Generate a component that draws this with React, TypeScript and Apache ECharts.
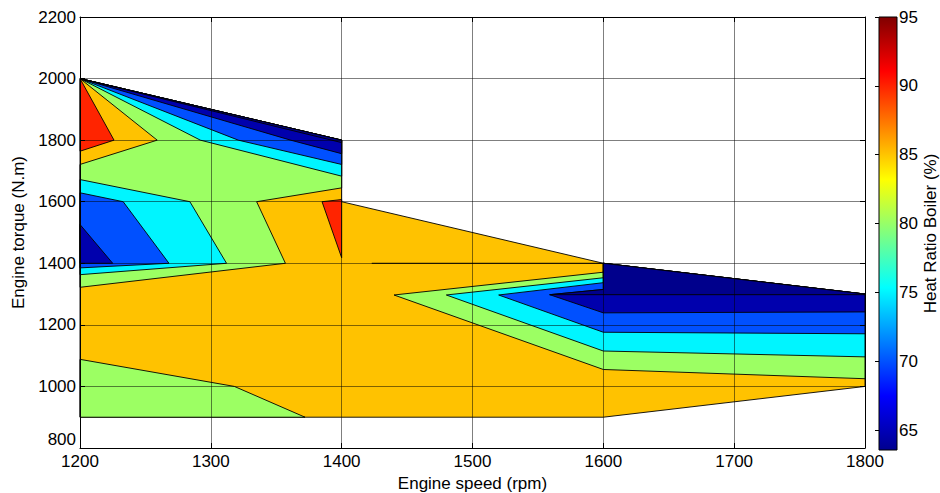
import React, { useEffect, useRef } from 'react';
import * as echarts from 'echarts';

type Pt = [number, number];

// ---- axis ranges and tick labels ----
const speedRange: Pt = [1200, 1800];
const speedStep = 100;
const torqueRange: Pt = [800, 2200];
const torqueStep = 200;
const heatRange: Pt = [63.55, 95];
const heatTicks = [65, 70, 75, 80, 85, 90, 95];

// ---- contour level colours (jet, flat per band): <65, 65, 70, 75, 80, 85, 90 ----
const levelColors = ['#00008C', '#0000AD', '#0050FF', '#00F5FF', '#9CFF63', '#FFC200', '#FF2400'];
const jetStops = ['#00008F', '#0000FF', '#00FFFF', '#FFFF00', '#FF0000', '#800000'];
const jetOffsets = [0, 0.125, 0.375, 0.625, 0.875, 1];

// ---- filled-contour regions (speed rpm, torque N.m) ----
const domain: Pt[] = [[1200, 2000], [1400, 1800], [1400, 1600], [1600, 1400], [1800, 1300], [1800, 1000], [1600, 900], [1200, 900]];

const greenTop: Pt[] = [[1200, 2000], [1400, 1800], [1400, 1645], [1335, 1600], [1357, 1400], [1200, 1322], [1200, 1721], [1259, 1800]];
const greenRight: Pt[] = [[1440, 1297], [1600, 1371], [1600, 1400], [1800, 1300], [1800, 1025], [1600, 1055]];
const greenBottom: Pt[] = [[1200, 900], [1200, 1088], [1318, 1000], [1372, 900]];

const cyanTop: Pt[] = [[1200, 2000], [1400, 1800], [1400, 1683], [1292, 1800]];
const cyanLeft: Pt[] = [[1200, 1672], [1284, 1600], [1312, 1400], [1200, 1363]];
const cyanRight: Pt[] = [[1480, 1297], [1600, 1353], [1600, 1400], [1800, 1300], [1800, 1096], [1600, 1115]];

const blueTop: Pt[] = [[1200, 2000], [1400, 1800], [1400, 1721], [1321, 1800]];
const blueLeft: Pt[] = [[1200, 1629], [1233, 1600], [1268, 1400], [1200, 1385]];
const blueRight: Pt[] = [[1520, 1297], [1600, 1337], [1600, 1400], [1800, 1300], [1800, 1171], [1600, 1176]];

const navyTop: Pt[] = [[1200, 2000], [1400, 1800], [1400, 1756], [1361, 1800]];
const navyLeft: Pt[] = [[1200, 1526], [1225, 1400], [1200, 1400]];
const navyRight: Pt[] = [[1559, 1298], [1600, 1315], [1600, 1400], [1800, 1300], [1800, 1242], [1600, 1239]];

const deepTop: Pt[] = [[1200, 2000], [1400, 1800], [1400, 1792]];
const deepRight: Pt[] = [[1559, 1298], [1600, 1315], [1600, 1400], [1800, 1300], [1800, 1298]];

const redTop: Pt[] = [[1200, 2000], [1226, 1800], [1200, 1764]];
const redMid: Pt[] = [[1385, 1600], [1400, 1607], [1400, 1418]];

const flatLine: Pt[] = [[1423, 1400], [1600, 1400]];

const regions: { level: number; pts: Pt[] }[] = [
  { level: 5, pts: domain },
  { level: 4, pts: greenTop },
  { level: 4, pts: greenRight },
  { level: 4, pts: greenBottom },
  { level: 3, pts: cyanTop },
  { level: 3, pts: cyanLeft },
  { level: 3, pts: cyanRight },
  { level: 2, pts: blueTop },
  { level: 2, pts: blueLeft },
  { level: 2, pts: blueRight },
  { level: 1, pts: navyTop },
  { level: 1, pts: navyLeft },
  { level: 1, pts: navyRight },
  { level: 0, pts: deepTop },
  { level: 0, pts: deepRight },
  { level: 6, pts: redTop },
  { level: 6, pts: redMid },
  { level: -1, pts: flatLine },
];

const FONT = '"Liberation Sans", Arial, Helvetica, sans-serif';

export default function App() {
  const ref = useRef<HTMLDivElement>(null);

  useEffect(() => {
    if (!ref.current) return;
    const chart = echarts.init(ref.current, null, { renderer: 'svg' });

    const labelStyle = { color: '#000', fontFamily: FONT, fontSize: 17 };
    const plain = (v: number) => String(v);
    const frameLine = { show: true, lineStyle: { color: '#000', width: 1 } };
    const inTick = { show: true, inside: true, length: 5, lineStyle: { color: '#000' } };
    const grid0Line = { show: true, lineStyle: { color: 'rgba(0,0,0,0.5)', width: 1 } };

    const option: any = {
      animation: false,
      backgroundColor: '#fff',
      grid: [
        { left: 80, right: 75, top: 17, bottom: 45, outerBoundsMode: 'none', containLabel: false },
        { left: 879, right: 43, top: 17, bottom: 43, outerBoundsMode: 'none', containLabel: false },
      ],
      xAxis: [
        {
          gridIndex: 0, type: 'value', min: speedRange[0], max: speedRange[1], interval: speedStep,
          position: 'bottom', z: 5,
          name: 'Engine speed (rpm)', nameLocation: 'middle', nameGap: 24,
          nameTextStyle: { ...labelStyle },
          axisLine: frameLine, axisTick: inTick,
          axisLabel: { ...labelStyle, margin: 5, formatter: plain },
          splitLine: grid0Line,
        },
        {
          gridIndex: 0, type: 'value', min: speedRange[0], max: speedRange[1], interval: speedStep,
          position: 'top', z: 5,
          axisLine: frameLine, axisTick: inTick, axisLabel: { show: false }, splitLine: { show: false },
        },
        { gridIndex: 1, type: 'value', min: 0, max: 1, show: false },
      ],
      yAxis: [
        {
          gridIndex: 0, type: 'value', min: torqueRange[0], max: torqueRange[1], interval: torqueStep,
          position: 'left', z: 5,
          name: 'Engine torque (N.m)', nameLocation: 'middle', nameGap: 52,
          nameTextStyle: { ...labelStyle },
          axisLine: frameLine, axisTick: inTick,
          axisLabel: { ...labelStyle, margin: 4, formatter: plain, verticalAlignMinLabel: 'bottom' },
          splitLine: grid0Line,
        },
        {
          gridIndex: 0, type: 'value', min: torqueRange[0], max: torqueRange[1], interval: torqueStep,
          position: 'right', z: 5,
          axisLine: frameLine, axisTick: inTick, axisLabel: { show: false }, splitLine: { show: false },
        },
        {
          gridIndex: 1, type: 'value', min: heatRange[0], max: heatRange[1],
          position: 'right', z: 5,
          name: 'Heat Ratio Boiler (%)', nameLocation: 'middle', nameGap: 24,
          nameTextStyle: { ...labelStyle },
          axisLine: { show: false },
          axisTick: { show: true, inside: true, length: 4, customValues: heatTicks, lineStyle: { color: '#000' } },
          axisLabel: { ...labelStyle, margin: 2, customValues: heatTicks, formatter: plain },
          splitLine: { show: false },
        },
      ],
      series: [
        {
          type: 'custom',
          xAxisIndex: 0,
          yAxisIndex: 0,
          z: 2,
          silent: true,
          data: regions.map((r, i) => [r.pts[0][0], r.pts[0][1], i]),
          encode: { x: 0, y: 1 },
          renderItem: (_params: any, api: any) => {
            const r = regions[api.value(2)];
            const points = r.pts.map((p) => api.coord(p));
            if (r.level < 0) {
              return { type: 'polyline', shape: { points }, style: { stroke: '#000', lineWidth: 1, fill: null } };
            }
            return {
              type: 'polygon',
              shape: { points },
              style: { fill: levelColors[r.level], stroke: '#000', lineWidth: 0.9, lineJoin: 'round' },
            };
          },
        },
        {
          type: 'custom',
          xAxisIndex: 2,
          yAxisIndex: 2,
          silent: true,
          data: [[0, heatRange[0], heatRange[1]]],
          renderItem: (_params: any, api: any) => {
            const p0 = api.coord([0, api.value(2)]);
            const p1 = api.coord([1, api.value(1)]);
            return {
              type: 'rect',
              shape: { x: p0[0], y: p0[1], width: p1[0] - p0[0], height: p1[1] - p0[1] },
              style: {
                fill: new echarts.graphic.LinearGradient(0, 1, 0, 0,
                  jetStops.map((c, i) => ({ offset: jetOffsets[i], color: c }))),
                stroke: '#000',
                lineWidth: 1,
              },
            };
          },
        },
      ],
    };

    chart.setOption(option);
    return () => chart.dispose();
  }, []);

  return (
    <div
      ref={ref}
      style={{ position: 'absolute', left: 0, top: 0, width: 940, height: 493, background: '#fff' }}
    />
  );
}
